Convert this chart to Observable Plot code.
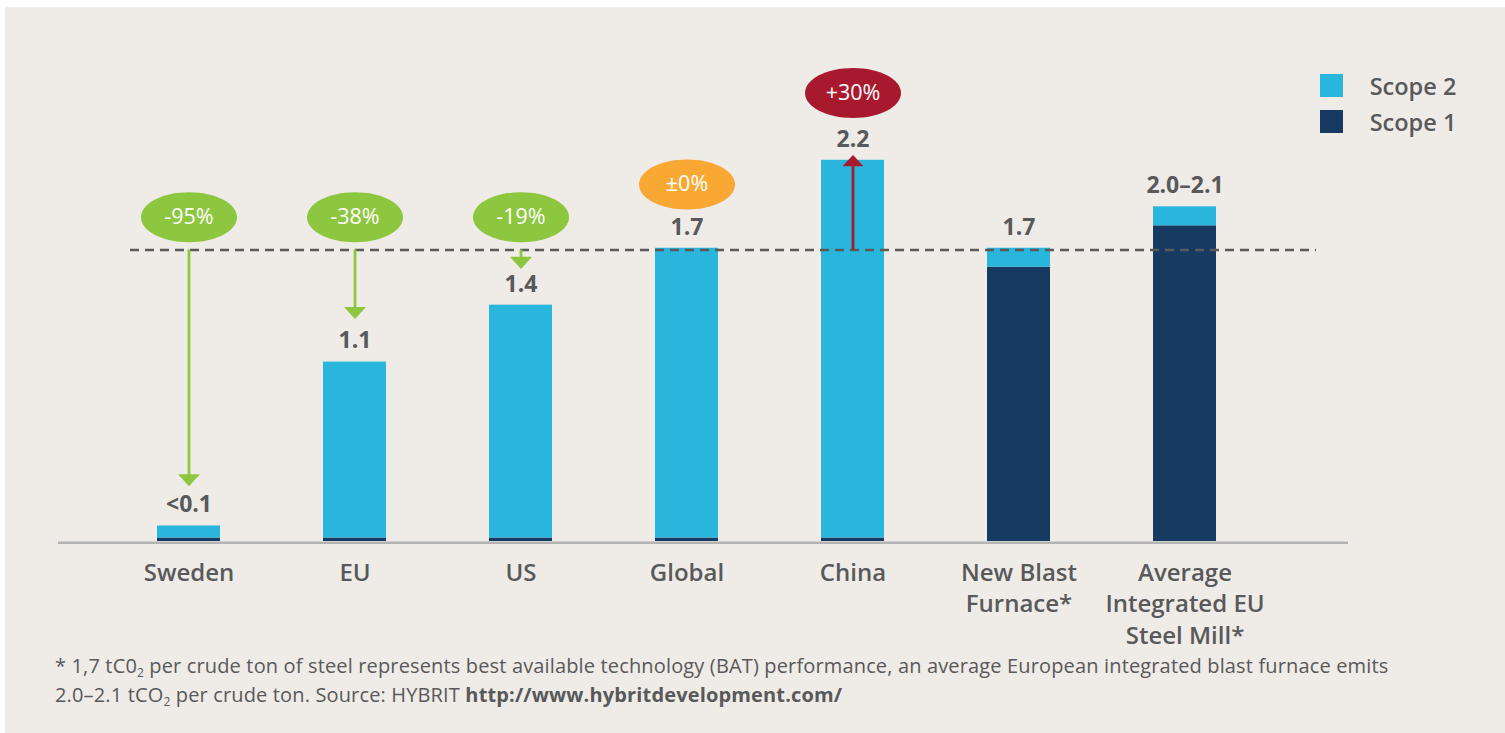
<!DOCTYPE html>
<html>
<head>
<meta charset="utf-8">
<script src="https://cdn.jsdelivr.net/npm/d3@7"></script>
<script src="https://cdn.jsdelivr.net/npm/@observablehq/plot@0.6"></script>
<style>
  html, body { margin: 0; padding: 0; background: #ffffff; }
  #panel { position: absolute; left: 5px; top: 7px; width: 1500px; height: 726px; background: #efebe6; overflow: hidden; font-family: "Open Sans", sans-serif; }
  #chart { position: absolute; left: 0; top: 0; }
  #legend { position: absolute; left: 1315px; top: 67px; }
  .lg-row { display: flex; align-items: center; height: 23px; margin-bottom: 13px; }
  .lg-sw { width: 23px; height: 23px; }
  .lg-tx { width: 140px; text-align: center; font-size: 23.5px; font-weight: 600; color: #58595b; margin-left: 0px; }
  #note { position: absolute; left: 50px; top: 644px; font-size: 20px; letter-spacing: 0.15px; line-height: 29px; color: #58595b; font-weight: 400; white-space: nowrap; }
  #note sub { font-size: 12px; vertical-align: -4px; line-height: 0; }
  #note b { font-weight: 700; }
</style>
</head>
<body>
<div id="panel">
  <div id="chart"></div>
  <div id="legend"></div>
  <div id="note">
    <div>* 1,7 tC0<sub>2</sub> per crude ton of steel represents best available technology (BAT) performance, an average European integrated blast furnace emits</div>
    <div>2.0–2.1 tCO<sub>2</sub> per crude ton. Source: HYBRIT <b>http://www.hybritdevelopment.com/</b></div>
  </div>
</div>
<script>
// ---- data ----
const categories = ["Sweden", "EU", "US", "Global", "China", "New Blast Furnace", "Average Integrated EU Steel Mill"];
const tickLabels = ["Sweden", "EU", "US", "Global", "China", "New Blast\nFurnace*", "Average\nIntegrated EU\nSteel Mill*"];
const scope1 = [0.02, 0.02, 0.02, 0.02, 0.02, 1.59, 1.83];
const scope2 = [0.07, 1.02, 1.35, 1.68, 2.19, 0.11, 0.11];
const valueLabels = ["<0.1", "1.1", "1.4", "1.7", "2.2", "1.7", "2.0–2.1"];
const changeCategories = ["Sweden", "EU", "US", "Global", "China"];
const changeLabels = ["-95%", "-38%", "-19%", "±0%", "+30%"];
const changeKind = ["down", "down", "down", "flat", "up"];
const badgeLevels = [1.88, 1.88, 1.88, 2.07, 2.60];
const arrowTips = [0.32, 1.29, 1.58, null, 2.24];
const benchmark = 1.69;
const seriesNames = ["Scope 2", "Scope 1"];

// ---- styles ----
const C_S2 = "#2ab6dc", C_S1 = "#173a63";
const kindColor = {down: "#8dc63f", flat: "#f9a834", up: "#a8192e"};
const GRAY = "#58595b";

// ---- derived tables ----
const stacked = [];
categories.forEach((c, i) => {
  stacked.push({cat: c, scope: "Scope 1", value: scope1[i]});
  stacked.push({cat: c, scope: "Scope 2", value: scope2[i]});
});
const totals = categories.map((c, i) => ({cat: c, total: scope1[i] + scope2[i], label: valueLabels[i], tick: tickLabels[i]}));
const changes = changeCategories.map((c, i) => ({cat: c, label: changeLabels[i], kind: changeKind[i], level: badgeLevels[i], tip: arrowTips[i]}));
const downArrows = changes.filter(d => d.kind === "down");
const upArrows = changes.filter(d => d.kind === "up");

// custom symbols
const K = 0.5522847498;
const ellipse = {
  draw(ctx, size) {
    const r = Math.sqrt(size / Math.PI), rx = r * 1.92, ry = r;
    ctx.moveTo(rx, 0);
    ctx.bezierCurveTo(rx, ry * K, rx * K, ry, 0, ry);
    ctx.bezierCurveTo(-rx * K, ry, -rx, ry * K, -rx, 0);
    ctx.bezierCurveTo(-rx, -ry * K, -rx * K, -ry, 0, -ry);
    ctx.bezierCurveTo(rx * K, -ry, rx, -ry * K, rx, 0);
    ctx.closePath();
  }
};
const triDown = {
  draw(ctx, size) {
    const r = Math.sqrt(size / Math.PI), h = r * 1.1;
    ctx.moveTo(0, 0); ctx.lineTo(-r, -h); ctx.lineTo(r, -h); ctx.closePath();
  }
};
const triUp = {
  draw(ctx, size) {
    const r = Math.sqrt(size / Math.PI), h = r * 1.05;
    ctx.moveTo(0, 0); ctx.lineTo(-r, h); ctx.lineTo(r, h); ctx.closePath();
  }
};

const FONT = "Open Sans";

const chart = Plot.plot({
  width: 1500,
  height: 665,
  marginLeft: 53,
  marginRight: 157,
  marginTop: 16.5,
  marginBottom: 131,
  style: {background: "transparent", fontFamily: FONT},
  x: {type: "band", domain: categories, paddingInner: 0.6225, paddingOuter: 0.6758, align: 0.427, axis: null},
  y: {domain: [0, 3], axis: null},
  color: {domain: ["Scope 1", "Scope 2"], range: [C_S1, C_S2]},
  marks: [
    Plot.barY(stacked, {x: "cat", y: "value", fill: "scope"}),
    Plot.ruleY([0], {stroke: "#b4b4b4", strokeWidth: 2.5, dy: 1.3}),
    Plot.ruleY([benchmark], {stroke: "#5a5a5a", strokeWidth: 2.6, strokeDasharray: "9,6", insetLeft: 72, insetRight: 32}),
    // arrow stems
    Plot.ruleX(downArrows, {x: "cat", y1: () => benchmark, y2: "tip", stroke: kindColor.down, strokeWidth: 2.8, insetBottom: 10}),
    Plot.ruleX(upArrows, {x: "cat", y1: "tip", y2: () => benchmark, stroke: kindColor.up, strokeWidth: 2.8, insetTop: 9}),
    Plot.dot(downArrows, {x: "cat", y: "tip", symbol: triDown, r: 11, fill: kindColor.down, stroke: null}),
    Plot.dot(upArrows, {x: "cat", y: "tip", symbol: triUp, r: 10.5, fill: kindColor.up, stroke: null}),
    // badges
    Plot.dot(changes, {x: "cat", y: "level", symbol: ellipse, r: 25, fill: d => kindColor[d.kind], stroke: null}),
    Plot.text(changes, {x: "cat", y: "level", text: "label", fill: "white", fontSize: 21.5, fontWeight: 500, fontFamily: FONT}),
    // value labels
    Plot.text(totals, {x: "cat", y: "total", text: "label", dy: -21, fill: GRAY, fontSize: 23, fontWeight: 700, fontFamily: FONT}),
    // category labels
    Plot.text(totals, {x: "cat", y: () => 0, text: "tick", lineAnchor: "top", dy: 17, lineHeight: 1.31, fill: GRAY, fontSize: 24, fontWeight: 600, fontFamily: FONT})
  ]
});
document.getElementById("chart").appendChild(chart);

// legend
const legend = document.getElementById("legend");
seriesNames.forEach(name => {
  const row = document.createElement("div");
  row.className = "lg-row";
  const sw = document.createElement("div");
  sw.className = "lg-sw";
  sw.style.background = chart.scale("color").apply(name);
  const tx = document.createElement("div");
  tx.className = "lg-tx";
  tx.textContent = name;
  row.appendChild(sw); row.appendChild(tx);
  legend.appendChild(row);
});
</script>
</body>
</html>
